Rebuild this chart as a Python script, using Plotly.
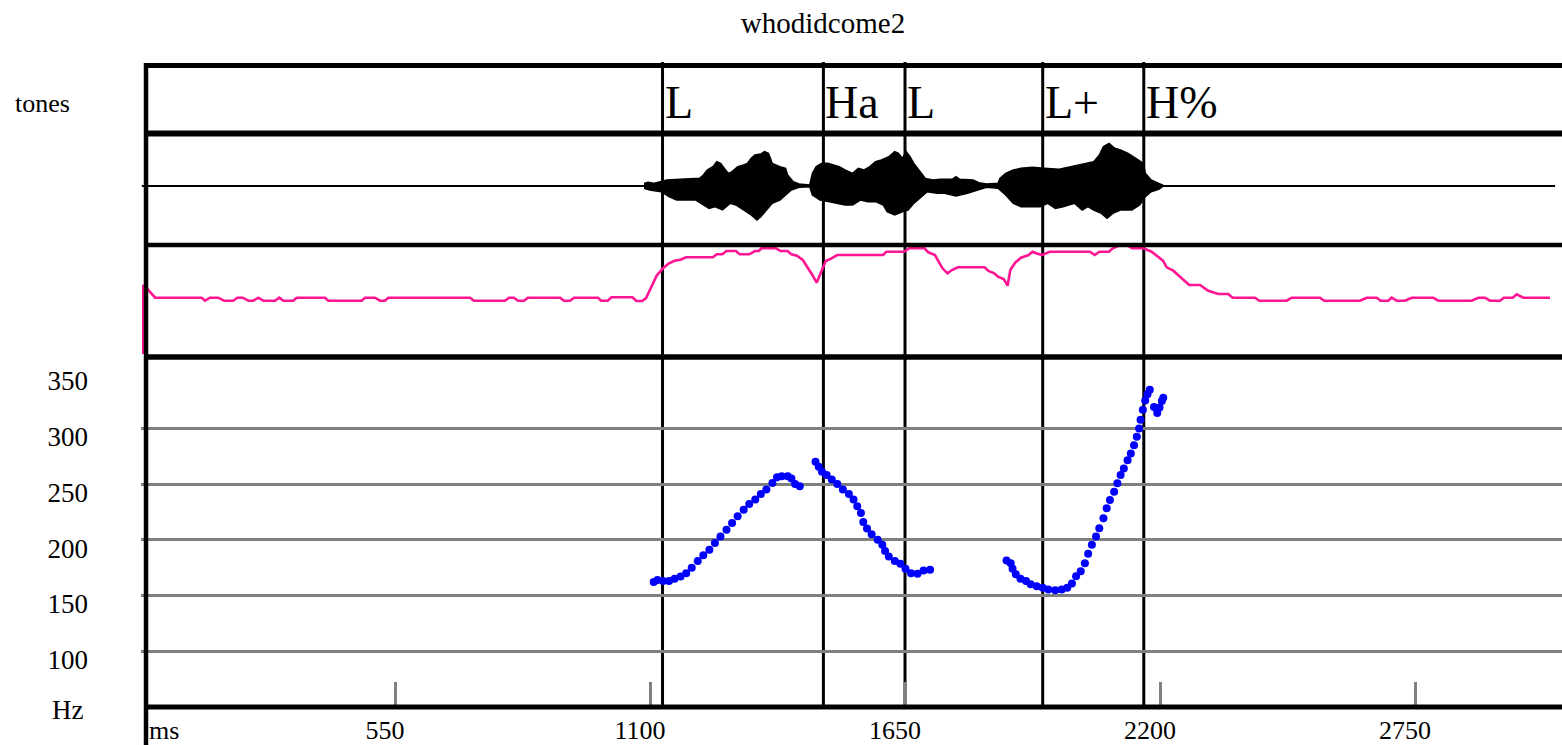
import plotly.graph_objects as go

# ---------------- data ----------------
title_text = "whodidcome2"

# tone labels (ms)
tone_ms = [1127, 1474, 1650, 1947, 2165]
tone_labels = ["L", "Ha", "L", "L+", "H%"]

# time axis ticks (ms)
x_tickvals = [550, 1100, 1650, 2200, 2750]
x_ticktext = ["550", "1100", "1650", "2200", "2750"]

# F0 axis (Hz)
f0_grid_vals = [100, 150, 200, 250, 300]
f0_label_vals = [100, 150, 200, 250, 300, 350]
f0_label_text = ["100", "150", "200", "250", "300", "350"]

# recording extent (ms)
rec_start_ms = 4
rec_end_ms = 3052

# F0 track (ms, Hz)
f0_ms = [1108, 1116, 1128, 1141, 1153, 1166, 1178, 1190, 1203, 1215, 1228, 1240, 1252, 1265,
         1277, 1289, 1302, 1314, 1327, 1339, 1351, 1364, 1374, 1384, 1397, 1405, 1413, 1423,
         1457, 1464, 1471, 1481, 1492, 1504, 1516, 1529, 1539, 1547, 1555, 1560, 1568, 1578,
         1591, 1601, 1607, 1615, 1628, 1640, 1651, 1663, 1677, 1690, 1704,
         1869, 1878, 1882, 1889, 1899, 1911, 1921, 1934, 1947, 1959, 1974, 1988, 2000, 2010,
         2019, 2029, 2038, 2045, 2053, 2062, 2069, 2078, 2085, 2092, 2101, 2108, 2115, 2122,
         2130, 2137, 2144, 2150, 2155, 2158, 2163, 2168, 2173, 2178,
         2187, 2194, 2199, 2204, 2207]
f0_hz = [162, 164, 163, 163, 165, 167, 170, 175, 181, 186, 191, 197, 203, 209,
         215, 221, 227, 232, 236, 241, 245, 251, 256, 257, 257, 255, 250, 248,
         270, 265.5, 261, 258, 254, 250, 245, 241, 236, 230, 224, 216, 210, 205,
         200, 195.5, 190, 185, 181, 178.5, 174, 170, 169.5, 172.5, 173,
         181.5, 179, 174, 169, 165, 163, 160, 158.3, 157, 155.4, 154.8, 155.4, 157, 160.7,
         167.3, 171.7, 179, 187.5, 195.5, 203, 210.4, 219.3, 228.3, 235.7, 243, 250.6, 258, 264,
         271.4, 277.4, 284.8, 292.3, 299.7, 307.7, 316.7, 325, 330.4, 334.5,
         319, 313.7, 318.5, 324.4, 327.3]

# intensity contour (ms, dB)
int_ms = [7.1, 7.1, 17.9, 32.4, 133.1, 140.2, 151, 168.9, 181.2, 201.2, 209.9, 221.5, 233.6, 244.4,
          255.2, 265.9, 291.2, 300.4, 309.1, 330.6, 338, 399, 406.1, 478.2, 485.3, 506.8, 517.6,
          528.4, 535.5, 711.7, 720.4, 787.3, 795.9, 806.6, 815.3, 828.2, 836.8, 905.9, 914.5,
          927.4, 936.1, 987.8, 994.3, 1008.8, 1016.9, 1062.2, 1070.6, 1082.7, 1091.3, 1103.6,
          1114.2, 1128, 1140.9, 1153, 1165.5, 1177.6, 1235.8, 1243.8, 1256.3, 1264.5, 1285.2,
          1293.4, 1314.1, 1326.4, 1334.6, 1340.4, 1371.7, 1381.6, 1396.5, 1404.9, 1417, 1429.5,
          1442, 1450.2, 1459.3, 1469.2, 1479.1, 1491.4, 1503.9, 1602.9, 1609.6, 1648.4, 1659,
          1692, 1700.4, 1714.5, 1722.7, 1730.8, 1741.6, 1751.3, 1763.8, 1821.6, 1829.8, 1842.4,
          1850.5, 1862.8, 1871.3, 1877.1, 1887.6, 1900.1, 1916.5, 1924.9, 1933.1, 1945.4, 1962,
          2048.8, 2059.3, 2069.2, 2089.9, 2098.1, 2110.6, 2131.1, 2139.5, 2164.1, 2182, 2195.6,
          2206.4, 2214.4, 2228.6, 2246.7, 2263.1, 2286.2, 2304.1, 2325.7, 2347.2, 2356.7, 2404.8,
          2414.1, 2473.2, 2484, 2545, 2554.3, 2631.3, 2645.7, 2667.3, 2675.9, 2692.3, 2699.6,
          2710.4, 2728.4, 2742.8, 2789.4, 2800.2, 2872.2, 2886.5, 2900.9, 2911.7, 2933.2, 2941.9,
          2960.7, 2969.3, 2983.5, 3041.1]
int_db = [20.5, 55.0, 52.5, 48.65, 48.65, 47.15, 48.65, 48.65, 47.15, 47.15, 48.65, 48.65, 47.15, 47.15,
          48.65, 47.15, 47.15, 48.65, 47.15, 47.15, 48.65, 48.65, 47.15, 47.15, 48.65, 48.65, 47.15,
          47.15, 48.65, 48.65, 47.15, 47.15, 48.65, 48.65, 47.15, 47.15, 48.65, 48.65, 47.15,
          47.15, 48.65, 48.65, 47.15, 47.15, 48.85, 48.85, 47.0, 47.0, 48.35, 54.15,
          59.65, 63.35, 65.85, 67.15, 67.65, 68.85, 68.85, 70.35, 70.35, 72.0, 72.0,
          70.35, 70.35, 72.0, 72.0, 73.35, 73.35, 72.0, 72.0, 70.35, 69.65, 67.5,
          63.35, 60.0, 56.15, 61.65, 67.0, 68.35, 70.0, 70.0, 71.65, 71.65, 73.35,
          73.35, 71.35, 70.0, 66.65, 63.35, 60.85, 62.5, 63.85, 63.85, 62.0, 60.85,
          59.15, 58.0, 54.65, 62.5, 66.15, 68.65, 70.0, 71.65, 70.85, 70.0, 71.65,
          71.65, 70.0, 71.65, 71.65, 73.35, 74.65, 74.65, 73.35, 73.35, 71.65, 69.15,
          67.15, 63.85, 62.15, 58.35, 55.0, 55.0, 52.15, 50.5, 50.5, 48.65, 48.65,
          47.15, 47.15, 48.65, 48.65, 47.15, 47.15, 48.65, 48.65, 47.15, 47.15, 48.65,
          47.15, 47.15, 48.65, 48.65, 47.15, 47.15, 48.65, 48.65, 47.15, 47.15, 48.65,
          48.65, 50.35, 48.65, 48.65]

# waveform envelope (ms, normalised amplitude)
wave_up_ms = [1087.1, 1095.4, 1107.8, 1124.3, 1136.6, 1165.5, 1206.8, 1215.1, 1223.3, 1235.7, 1244,
              1252.2, 1260.5, 1268.7, 1277, 1289.3, 1301.7, 1310, 1318.2, 1326.5, 1338.9, 1347.1,
              1355.4, 1363.6, 1380.1, 1392.5, 1396.7, 1409, 1421.4, 1444.5, 1450.3, 1458.6, 1470.9,
              1483.3, 1495.7, 1508.1, 1520.5, 1537, 1549.3, 1561.7, 1574.1, 1586.5, 1598.9, 1607.1,
              1615.4, 1627.8, 1636, 1644.3, 1652.5, 1660.8, 1669, 1677.3, 1693.8, 1710.3, 1726.8,
              1751.6, 1759.8, 1768.1, 1797, 1809.3, 1825.9, 1850.6, 1854.7, 1867.1, 1883.6, 1900.1,
              1924.9, 1949.7, 1982.7, 2007.4, 2023.9, 2040.5, 2057, 2069.3, 2077.6, 2090, 2102.4,
              2114.7, 2131.2, 2147.8, 2164.3, 2168.4, 2180.8, 2197.3, 2205.6]
wave_up_amp = [0.048, 0.067, 0.048, 0.079, 0.109, 0.121, 0.139, 0.200, 0.291, 0.352, 0.442,
               0.412, 0.321, 0.230, 0.261, 0.352, 0.382, 0.412, 0.503, 0.564, 0.582, 0.624,
               0.594, 0.412, 0.352, 0.321, 0.200, 0.079, 0.036, 0.018, 0.230, 0.352, 0.412,
               0.412, 0.382, 0.352, 0.291, 0.230, 0.321, 0.291, 0.352, 0.442, 0.473, 0.503,
               0.533, 0.624, 0.594, 0.503, 0.624, 0.533, 0.412, 0.321, 0.139, 0.109, 0.121,
               0.121, 0.170, 0.121, 0.109, 0.061, 0.036, 0.048, 0.139, 0.230, 0.291, 0.321,
               0.339, 0.321, 0.303, 0.352, 0.382, 0.412, 0.442, 0.564, 0.715, 0.776, 0.685,
               0.655, 0.594, 0.503, 0.412, 0.230, 0.109, 0.048, 0.018]
wave_lo_ms = [1087.1, 1099.5, 1124.3, 1140.8, 1157.3, 1198.6, 1215.1, 1227.4, 1239.8, 1256.3, 1272.8,
              1285.2, 1301.7, 1318.2, 1330.6, 1338.9, 1351.3, 1363.6, 1380.1, 1392.5, 1404.9, 1421.4,
              1444.5, 1450.3, 1466.8, 1487.4, 1520.5, 1537, 1553.5, 1570, 1586.5, 1603, 1611.3,
              1627.8, 1644.3, 1656.6, 1669, 1685.5, 1698, 1718.6, 1735.1, 1759.8, 1784.6, 1809.3,
              1825.9, 1850.6, 1867.1, 1883.6, 1900.1, 1941.4, 1957.9, 1974.4, 1990.9, 2015.7, 2032.2,
              2044.6, 2057, 2073.5, 2085.8, 2098.2, 2114.7, 2139.5, 2156, 2168.4, 2180.8, 2197.3,
              2205.6]
wave_lo_amp = [-0.042, -0.073, -0.103, -0.194, -0.255, -0.255, -0.345, -0.406, -0.376, -0.436, -0.315,
               -0.345, -0.436, -0.527, -0.618, -0.558, -0.436, -0.315, -0.255, -0.164, -0.073, -0.024,
               -0.012, -0.164, -0.255, -0.285, -0.345, -0.345, -0.255, -0.285, -0.285, -0.345, -0.467,
               -0.527, -0.467, -0.436, -0.315, -0.194, -0.103, -0.133, -0.133, -0.182, -0.133, -0.073,
               -0.024, -0.042, -0.164, -0.315, -0.376, -0.376, -0.315, -0.406, -0.376, -0.315, -0.436,
               -0.376, -0.436, -0.497, -0.588, -0.497, -0.436, -0.436, -0.345, -0.194, -0.103, -0.061,
               -0.012]

# ---------------- layout geometry (pixels of the 1562x745 canvas) ----------------
W, H = 1562, 745
PX_PER_MS = 0.46364
ORIGIN_PX = 140.0          # pixel of t = 0 ms
PLOT_LEFT = 141.0
FRAME_X = 146.0
ROWS = dict(top=65.5, tones_wave=133.5, wave_int=245.0, int_f0=357.0, bottom=707.0)

def px2ms(px):
    return (px - ORIGIN_PX) / PX_PER_MS

def xp(px):
    return px / W

def yp(py):
    return 1 - py / H

F0_RANGE = [50, 50 + (ROWS["bottom"] - ROWS["int_f0"]) / 1.115]
LABEL_SHIFT_HZ = 8.5 / 1.115
SERIF = "Liberation Serif, Times New Roman, serif"

fig = go.Figure()

# waveform
fig.add_trace(go.Scatter(
    x=[rec_start_ms, rec_end_ms], y=[0, 0], mode="lines",
    line=dict(color="black", width=2), xaxis="x", yaxis="y2", hoverinfo="skip"))
fig.add_trace(go.Scatter(
    x=wave_up_ms + wave_lo_ms[::-1], y=wave_up_amp + wave_lo_amp[::-1],
    mode="lines", fill="toself", fillcolor="black",
    line=dict(color="black", width=1.5), xaxis="x", yaxis="y2", hoverinfo="skip"))

# intensity
fig.add_trace(go.Scatter(
    x=int_ms, y=int_db, mode="lines",
    line=dict(color="#FF1493", width=2.6), xaxis="x", yaxis="y3", hoverinfo="skip"))

# F0
fig.add_trace(go.Scatter(
    x=f0_ms, y=f0_hz, mode="markers",
    marker=dict(color="#0000FF", size=8, line=dict(width=0)),
    xaxis="x", yaxis="y", hoverinfo="skip"))

shapes = []
# tone boundaries
for t in tone_ms:
    shapes.append(dict(type="line", xref="x", yref="paper", x0=t, x1=t,
                       y0=yp(ROWS["bottom"]), y1=yp(62), layer="between",
                       line=dict(color="black", width=3)))
# frames
for key, wdt in [("top", 5), ("tones_wave", 6), ("wave_int", 4.5), ("int_f0", 5.5), ("bottom", 5)]:
    shapes.append(dict(type="line", xref="paper", yref="paper", x0=xp(144), x1=1,
                       y0=yp(ROWS[key]), y1=yp(ROWS[key]), layer="above",
                       line=dict(color="black", width=wdt)))
shapes.append(dict(type="line", xref="paper", yref="paper", x0=xp(FRAME_X), x1=xp(FRAME_X),
                   y0=yp(63), y1=0, layer="above", line=dict(color="black", width=4.5)))

annotations = []
for t, lab in zip(tone_ms, tone_labels):
    annotations.append(dict(x=t, xref="x", y=yp(103), yref="paper", text=lab,
                            showarrow=False, xanchor="left", yanchor="middle",
                            font=dict(family=SERIF, size=46, color="black")))
annotations.append(dict(x=xp(42), y=yp(104), xref="paper", yref="paper", text="tones",
                        showarrow=False, xanchor="center", yanchor="middle",
                        font=dict(family=SERIF, size=26, color="black")))
annotations.append(dict(x=xp(85), y=yp(710), xref="paper", yref="paper", text="Hz",
                        showarrow=False, xanchor="right", yanchor="middle",
                        font=dict(family=SERIF, size=27, color="black")))
annotations.append(dict(x=xp(147), y=yp(730), xref="paper", yref="paper", text="ms",
                        showarrow=False, xanchor="left", yanchor="middle",
                        font=dict(family=SERIF, size=26, color="black")))

fig.update_layout(
    width=W, height=H, template="none",
    margin=dict(l=0, r=0, t=0, b=0),
    paper_bgcolor="white", plot_bgcolor="rgba(0,0,0,0)",
    showlegend=False,
    title=dict(text=title_text, x=823 / W, xref="paper", y=yp(23), yref="container",
               xanchor="center", yanchor="middle",
               font=dict(family=SERIF, size=29, color="black")),
    xaxis=dict(domain=[xp(PLOT_LEFT), 1], range=[px2ms(PLOT_LEFT), px2ms(W)],
               anchor="y", showgrid=False, zeroline=False, showline=False,
               tickvals=x_tickvals, ticktext=x_ticktext,
               ticks="inside", ticklen=25, tickwidth=2.5, tickcolor="#808080",
               ticklabelstandoff=5, ticklabelshift=-10,
               tickfont=dict(family=SERIF, size=26, color="black"), automargin=False),
    yaxis=dict(domain=[yp(ROWS["bottom"]), yp(ROWS["int_f0"])], range=F0_RANGE,
               anchor="x", tickvals=f0_grid_vals, showticklabels=False, ticks="",
               showgrid=True, gridcolor="#808080", gridwidth=3, zeroline=False,
               showline=False, automargin=False),
    yaxis5=dict(overlaying="y", anchor="x", side="left",
                range=[F0_RANGE[0] + LABEL_SHIFT_HZ, F0_RANGE[1] + LABEL_SHIFT_HZ],
                tickvals=f0_label_vals, ticktext=f0_label_text, ticks="",
                showgrid=False, zeroline=False, showline=False, ticklabelstandoff=52,
                tickfont=dict(family=SERIF, size=27, color="black"), automargin=False),
    yaxis2=dict(domain=[yp(ROWS["wave_int"]), yp(ROWS["tones_wave"])],
                range=[(186 - ROWS["wave_int"]) / 55, (186 - ROWS["tones_wave"]) / 55],
                anchor="x", visible=False),
    yaxis3=dict(domain=[yp(ROWS["int_f0"]), yp(ROWS["wave_int"])],
                range=[20 + (355 - ROWS["int_f0"]) / 2, 20 + (355 - ROWS["wave_int"]) / 2],
                anchor="x", visible=False),
    shapes=shapes, annotations=annotations,
)

# the label-only axis needs at least one trace to be drawn
fig.add_trace(go.Scatter(x=[None], y=[None], yaxis="y5", xaxis="x", showlegend=False,
                         hoverinfo="skip"))

fig.write_html("out.html", config={"displayModeBar": False},
               post_script="document.body.style.margin='0px';")
